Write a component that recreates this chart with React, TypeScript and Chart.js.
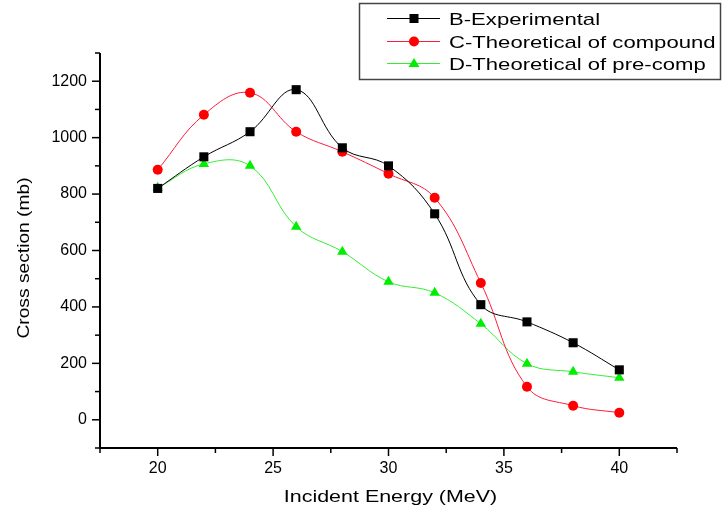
import React, { useEffect, useRef } from 'react';
import { Chart, registerables } from 'chart.js';

Chart.register(...registerables);

const energies = [20, 22, 24, 26, 28, 30, 32, 34, 36, 38, 40];
const experimental = [820, 932, 1021, 1170, 964, 900, 730, 408, 347, 273, 177];
const compound = [886, 1081, 1159, 1021, 950, 872, 787, 485, 117, 50, 25];
const precomp = [822, 907, 900, 684, 596, 489, 450, 340, 199, 170, 149];

const seriesNames = ['B-Experimental', 'C-Theoretical of compound', 'D-Theoretical of pre-comp'];
const xTickValues = [20, 25, 30, 35, 40];
const yTickValues = [0, 200, 400, 600, 800, 1000, 1200];
const xTitle = 'Incident Energy (MeV)';
const yTitle = 'Cross section (mb)';

const X_MIN = 17.5;
const X_MAX = 42.5;
const X_MINOR = 2.5;
const Y_MIN = -100;
const Y_MAX = 1300;
const Y_MINOR = 100;

const FONT = '"Liberation Sans", Arial, Helvetica, sans-serif';

const styles = [
  { line: '#000000', point: '#000000', shape: 'rect' },
  { line: '#ff1a3c', point: '#ff0000', shape: 'circle' },
  { line: '#33ee33', point: '#00ee00', shape: 'triangle' },
];

function drawMarker(ctx: CanvasRenderingContext2D, shape: string, x: number, y: number, color: string) {
  ctx.fillStyle = color;
  ctx.beginPath();
  if (shape === 'rect') {
    ctx.rect(x - 4.5, y - 4.5, 9, 9);
  } else if (shape === 'circle') {
    ctx.arc(x, y, 5, 0, Math.PI * 2);
  } else {
    ctx.moveTo(x, y - 5.5);
    ctx.lineTo(x + 5.5, y + 3.5);
    ctx.lineTo(x - 5.5, y + 3.5);
    ctx.closePath();
  }
  ctx.fill();
}

function stretchedText(ctx: CanvasRenderingContext2D, text: string, x: number, y: number, sx: number, align: 'left' | 'center') {
  ctx.save();
  ctx.translate(x, y);
  ctx.scale(sx, 1);
  ctx.textAlign = align;
  ctx.fillText(text, 0, 0);
  ctx.restore();
}

const decorPlugin = {
  id: 'decor',
  afterDraw(chart: any) {
    const { ctx, chartArea } = chart;
    const { left, right, top, bottom } = chartArea;
    const xs = chart.scales.x;
    const ys = chart.scales.y;
    ctx.save();
    ctx.strokeStyle = '#000';
    ctx.lineWidth = 2;
    ctx.beginPath();
    ctx.moveTo(left, top);
    ctx.lineTo(left, bottom);
    ctx.lineTo(right, bottom);
    ctx.stroke();

    ctx.lineWidth = 1.5;
    for (let v = Y_MIN; v <= Y_MAX + 1e-6; v += Y_MINOR) {
      const py = ys.getPixelForValue(v);
      const len = yTickValues.includes(v) ? 8 : 5;
      ctx.beginPath();
      ctx.moveTo(left - len, py);
      ctx.lineTo(left, py);
      ctx.stroke();
    }
    for (let v = X_MIN; v <= X_MAX + 1e-6; v += X_MINOR) {
      const px = xs.getPixelForValue(v);
      const len = xTickValues.includes(v) ? 8 : 5;
      ctx.beginPath();
      ctx.moveTo(px, bottom);
      ctx.lineTo(px, bottom + len);
      ctx.stroke();
    }

    // axis titles
    ctx.fillStyle = '#000';
    ctx.textBaseline = 'alphabetic';
    ctx.font = `16.5px ${FONT}`;
    stretchedText(ctx, xTitle, (left + right) / 2 + 2, 502, 1.3, 'center');

    ctx.save();
    ctx.translate(29, 258);
    ctx.rotate(-Math.PI / 2);
    ctx.font = `17px ${FONT}`;
    ctx.scale(1.13, 1);
    ctx.textAlign = 'center';
    ctx.fillText(yTitle, 0, 0);
    ctx.restore();

    // legend
    ctx.lineWidth = 1.5;
    ctx.strokeStyle = '#444';
    ctx.strokeRect(359.5, 3.5, 361, 76);
    const rows = [18.5, 41.5, 63.5];
    ctx.font = `17px ${FONT}`;
    seriesNames.forEach((name, i) => {
      const cy = rows[i];
      ctx.strokeStyle = styles[i].line;
      ctx.lineWidth = 1;
      ctx.beginPath();
      ctx.moveTo(387, cy);
      ctx.lineTo(440, cy);
      ctx.stroke();
      drawMarker(ctx, styles[i].shape, 414, cy, styles[i].point);
      ctx.fillStyle = '#000';
      stretchedText(ctx, name, 449, cy + 6, 1.3, 'left');
    });
    ctx.restore();
  },
};

export default function App() {
  const canvasRef = useRef<HTMLCanvasElement | null>(null);

  useEffect(() => {
    document.body.style.margin = '0';
    const canvas = canvasRef.current;
    if (!canvas) return;
    const seriesValues = [experimental, compound, precomp];
    const chart = new Chart(canvas, {
      type: 'line',
      data: {
        datasets: seriesValues.map((vals, i) => ({
          label: seriesNames[i],
          data: energies.map((x, j) => ({ x, y: vals[j] })),
          borderColor: styles[i].line,
          backgroundColor: styles[i].point,
          pointBackgroundColor: styles[i].point,
          pointBorderColor: styles[i].point,
          pointBorderWidth: 0,
          borderWidth: 1,
          pointStyle: styles[i].shape as any,
          pointRadius: styles[i].shape === 'rect' ? 6.4 : styles[i].shape === 'circle' ? 5 : 6,
          tension: 0.4,
          fill: false,
        })),
      },
      options: {
        animation: false,
        responsive: true,
        maintainAspectRatio: false,
        layout: { padding: { top: 53, right: 47, left: 0, bottom: 0 } },
        plugins: {
          legend: { display: false },
          tooltip: { enabled: false },
        },
        scales: {
          x: {
            type: 'linear',
            min: X_MIN,
            max: X_MAX,
            grid: { display: false, drawTicks: false },
            border: { display: false },
            ticks: {
              color: '#000',
              font: { family: FONT, size: 16 },
              padding: 11,
              maxRotation: 0,
              autoSkip: false,
              callback: (v: any) => String(v),
            },
            afterBuildTicks: (s: any) => {
              s.ticks = xTickValues.map((v) => ({ value: v }));
            },
            afterFit: (s: any) => {
              s.height = 66;
            },
          },
          y: {
            type: 'linear',
            min: Y_MIN,
            max: Y_MAX,
            grid: { display: false, drawTicks: false },
            border: { display: false },
            ticks: {
              color: '#000',
              font: { family: FONT, size: 16 },
              padding: 13,
              autoSkip: false,
              callback: (v: any) => String(v),
            },
            afterBuildTicks: (s: any) => {
              s.ticks = yTickValues.map((v) => ({ value: v }));
            },
            afterFit: (s: any) => {
              s.width = 100;
            },
          },
        },
      },
      plugins: [decorPlugin],
    });
    return () => chart.destroy();
  }, []);

  return (
    <div style={{ width: 724, height: 514, position: 'relative', background: '#fff' }}>
      <canvas ref={canvasRef} />
    </div>
  );
}
